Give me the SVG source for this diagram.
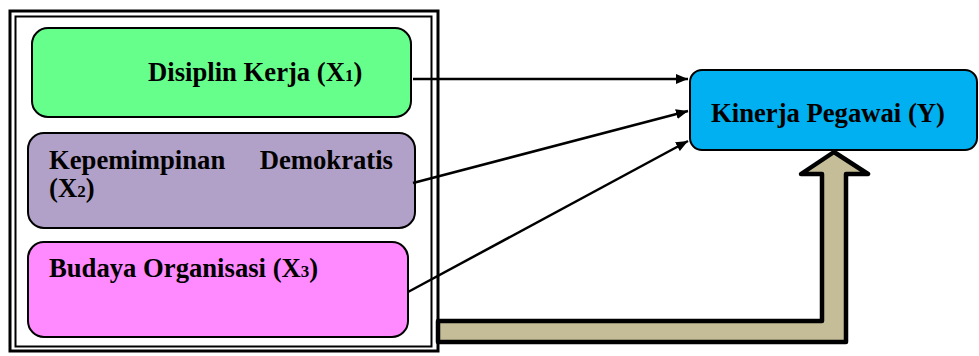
<svg xmlns="http://www.w3.org/2000/svg" width="979" height="356" viewBox="0 0 979 356">
  <style>
    .box { stroke: #000; stroke-width: 2; }
    .lbl { font-family: "Liberation Serif", "Times New Roman", serif; font-weight: bold; font-size: 26.67px; fill: #000; }
    .sub { font-size: 17px; }
    .frame { fill: none; stroke: #000; }
    .link { fill: none; stroke: #000; stroke-width: 2.5; }
  </style>
  <defs>
    <marker id="arrow" viewBox="0 0 12 10" refX="12" refY="5" markerWidth="12" markerHeight="10" markerUnits="userSpaceOnUse" orient="auto">
      <path d="M0,0 L12,5 L0,10 Z" fill="#000"/>
    </marker>
  </defs>

  <rect width="979" height="356" fill="#fff"/>

  <!-- double-line frame around the independent variables -->
  <g id="frame">
    <rect class="frame" x="10" y="11" width="428" height="340" stroke-width="3"/>
    <rect class="frame" x="15.5" y="16.5" width="416" height="330" stroke-width="2"/>
  </g>

  <g id="x1">
    <rect class="box" x="32" y="28" width="379" height="89" rx="16" fill="#66FF8C"/>
    <text class="lbl" x="148" y="81">Disiplin Kerja (X<tspan class="sub">1</tspan>)</text>
  </g>

  <g id="x2">
    <rect class="box" x="28" y="133" width="387" height="95" rx="16" fill="#B1A0C7"/>
    <text class="lbl" x="49" y="169">Kepemimpinan</text>
    <text class="lbl" x="393" y="169" text-anchor="end">Demokratis</text>
    <text class="lbl" x="49" y="197">(X<tspan class="sub">2</tspan>)</text>
  </g>

  <g id="x3">
    <rect class="box" x="28" y="242" width="380" height="95" rx="16" fill="#FF8AFF"/>
    <text class="lbl" x="49" y="277">Budaya Organisasi (X<tspan class="sub">3</tspan>)</text>
  </g>

  <g id="y">
    <rect class="box" x="690" y="70" width="287" height="80" rx="12" fill="#00B0F0"/>
    <text class="lbl" x="711" y="122">Kinerja Pegawai (Y)</text>
  </g>

  <g id="connectors">
    <line class="link" x1="413" y1="79" x2="688" y2="79" marker-end="url(#arrow)"/>
    <line class="link" x1="413" y1="183" x2="688" y2="111" marker-end="url(#arrow)"/>
    <line class="link" x1="408" y1="292" x2="688" y2="141" marker-end="url(#arrow)"/>
    <!-- combined (simultaneous) effect: block arrow -->
    <path d="M438,321 L822,321 L822,174 L801,174 L834,152 L868,174 L846,174 L846,342 L438,342 Z"
          fill="#C4BD97" stroke="#000" stroke-width="4.5" stroke-linejoin="round"/>
  </g>
</svg>
